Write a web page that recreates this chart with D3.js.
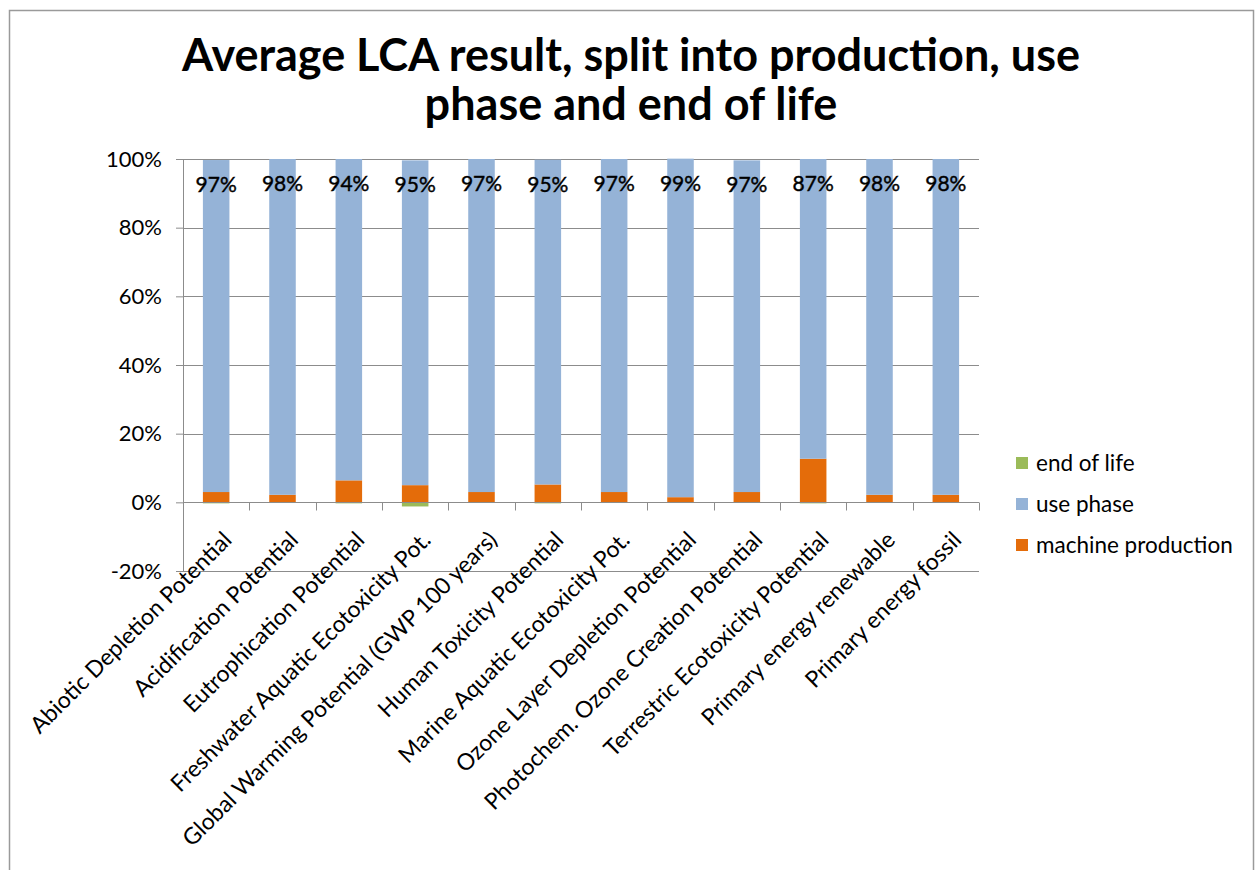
<!DOCTYPE html>
<html>
<head>
<meta charset="utf-8">
<script src="https://cdn.jsdelivr.net/npm/d3@7/dist/d3.min.js"></script>
<style>
  html, body { margin: 0; padding: 0; background: #fff; }
  svg { display: block; font-family: Lato, "Open Sans", sans-serif; }
</style>
</head>
<body>
<svg id="chart" width="1255" height="870"></svg>
<script>
const categories = [
  "Abiotic Depletion Potential",
  "Acidification Potential",
  "Eutrophication Potential",
  "Freshwater Aquatic Ecotoxicity Pot.",
  "Global Warming Potential (GWP 100 years)",
  "Human Toxicity Potential",
  "Marine Aquatic Ecotoxicity Pot.",
  "Ozone Layer Depletion Potential",
  "Photochem. Ozone Creation Potential",
  "Terrestric Ecotoxicity Potential",
  "Primary energy renewable",
  "Primary energy fossil"
];
const machineProduction = [0.030, 0.022, 0.064, 0.050, 0.030, 0.052, 0.030, 0.015, 0.030, 0.127, 0.022, 0.022];
const usePhase          = [0.967, 0.978, 0.936, 0.946, 0.970, 0.946, 0.970, 0.986, 0.966, 0.873, 0.978, 0.978];
const endOfLife         = [-0.003, -0.002, -0.003, -0.012, -0.002, -0.003, -0.002, -0.002, -0.002, -0.003, -0.002, -0.002];
const seriesNames = ["machine production", "use phase", "end of life"];
const seriesColors = ["#E46C0A", "#95B3D7", "#9BBB59"];
const yTicks = [-0.2, 0, 0.2, 0.4, 0.6, 0.8, 1.0];
const titleLines = ["Average LCA result, split into production, use", "phase and end of life"];

const pct = v => Math.round(v * 100) + "%";

const svg = d3.select("#chart");

// outer chart border
svg.append("rect").attr("x", 9.5).attr("y", 10.5).attr("width", 1244).attr("height", 900)
  .attr("fill", "none").attr("stroke", "#9a9a9a").attr("stroke-width", 1.5);

const pLeft = 183, pRight = 979, pTop = 159, pBottom = 571;
const x = d3.scaleBand().domain(categories).range([pLeft, pRight]).paddingInner(0.6).paddingOuter(0.3);
const xb = d3.scaleBand().domain(categories).range([pLeft, pRight]);
const y = d3.scaleLinear().domain([-0.2, 1.0]).range([pBottom, pTop]);

const table = categories.map((c, i) => ({
  cat: c,
  "machine production": machineProduction[i],
  "use phase": usePhase[i],
  "end of life": endOfLife[i]
}));
const stacked = d3.stack().keys(seriesNames).offset(d3.stackOffsetDiverging)(table);

// gridlines
svg.append("g").selectAll("line").data(yTicks).join("line")
  .attr("x1", pLeft).attr("x2", pRight)
  .attr("y1", d => Math.round(y(d)) + 0.5).attr("y2", d => Math.round(y(d)) + 0.5)
  .attr("stroke", "#8c8c8c").attr("stroke-width", 1);

// y axis
const yAxis = svg.append("g").attr("transform", `translate(${pLeft},0)`)
  .call(d3.axisLeft(y).tickValues(yTicks).tickFormat(pct).tickSize(7).tickPadding(14));
yAxis.select(".domain").attr("stroke", "#8c8c8c");
yAxis.selectAll(".tick line").attr("stroke", "#8c8c8c");
yAxis.selectAll(".tick text").attr("font-size", 22).attr("fill", "#000")
  .attr("font-family", "Lato, sans-serif");

// bars
svg.append("g").selectAll("g").data(stacked).join("g")
  .attr("fill", (d, i) => seriesColors[i])
  .selectAll("rect").data(d => d).join("rect")
  .attr("x", d => x(d.data.cat))
  .attr("width", x.bandwidth())
  .attr("y", d => y(Math.max(d[0], d[1])))
  .attr("height", d => Math.abs(y(d[0]) - y(d[1])));

// x axis at zero
const xAxisG = svg.append("g").attr("transform", `translate(0,${Math.round(y(0)) + 0.5})`);
xAxisG.append("line").attr("x1", pLeft).attr("x2", pRight).attr("stroke", "#8c8c8c");
xAxisG.selectAll("line.tk").data(d3.range(categories.length + 1)).join("line").attr("class", "tk")
  .attr("x1", i => Math.round(pLeft + i * xb.step()) + 0.5)
  .attr("x2", i => Math.round(pLeft + i * xb.step()) + 0.5)
  .attr("y1", 0).attr("y2", 8).attr("stroke", "#8c8c8c");

// x labels
svg.append("g").selectAll("text").data(categories).join("text")
  .attr("text-anchor", "end")
  .attr("font-size", 23)
  .attr("fill", "#000")
  .attr("transform", d => `translate(${xb(d) + xb.bandwidth() / 2 + 17},${y(0) + 39}) rotate(-45)`)
  .text(d => d);

// data labels for use phase
const useSeries = stacked[1];
svg.append("g").selectAll("text").data(useSeries).join("text")
  .attr("text-anchor", "middle")
  .attr("font-size", 21)
  .attr("fill", "#000")
  .attr("stroke", "#000").attr("stroke-width", 0.4)
  .attr("x", d => x(d.data.cat) + x.bandwidth() / 2)
  .attr("y", d => y(d[1]) + 32)
  .text(d => pct(d.data["use phase"]));

// title
svg.append("g").selectAll("text").data(titleLines).join("text")
  .attr("x", 631).attr("y", (d, i) => 71 + i * 49)
  .attr("text-anchor", "middle")
  .attr("font-size", 45)
  .attr("font-weight", "bold")
  .attr("fill", "#000")
  .text(d => d);

// legend (reverse order)
const legendItems = seriesNames.slice().reverse();
const legendColors = seriesColors.slice().reverse();
const lg = svg.append("g").selectAll("g").data(legendItems).join("g")
  .attr("transform", (d, i) => `translate(1016,${463 + i * 41})`);
lg.append("rect").attr("x", 0).attr("y", -6).attr("width", 12).attr("height", 12)
  .attr("fill", (d, i) => legendColors[i]);
lg.append("text").attr("x", 20).attr("y", 0).attr("dy", "0.35em")
  .attr("font-size", 22.5).attr("fill", "#000").text(d => d);
</script>
</body>
</html>
